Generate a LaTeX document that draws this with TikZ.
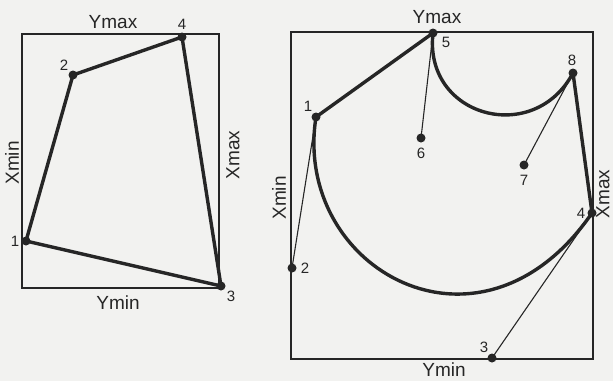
\documentclass[tikz,border=0pt]{standalone}
\usepackage{fontspec}
\setmainfont{Liberation Sans}
\usetikzlibrary{calc}
\definecolor{ink}{RGB}{38,38,38}
\definecolor{paper}{RGB}{242,242,240}
\begin{document}
\begin{tikzpicture}[x=1pt,y=-1pt,
  dot/.style={circle,fill=ink,draw=none,inner sep=0pt,minimum size=9pt},
  num/.style={inner sep=0pt,font=\fontsize{15}{15}\selectfont,text=ink},
  axis/.style={inner sep=0pt,font=\fontsize{19}{19}\selectfont,text=ink},
  frame/.style={draw=ink,line width=1.3pt},
  heavy/.style={draw=ink,line width=3.4pt,line cap=round,line join=round},
  light/.style={draw=ink,line width=1.1pt}]
\fill[paper] (0,0) rectangle (613,381);
\useasboundingbox (0,0) rectangle (613,381);
% ---------- left diagram ----------
\draw[frame] (22,34) rectangle (219,288);
\node[dot] (L1) at (26,241) {};
\node[dot] (L2) at (73,75) {};
\node[dot] (L3) at (221,286) {};
\node[dot] (L4) at (182,37) {};
\draw[heavy] (L1.center) -- (L2.center) -- (L4.center) -- (L3.center) -- cycle;
\node[num] (l1) at (15,241) {1};
\node[num] (l2) at (64,65) {2};
\node[num] (l3) at (231,296) {3};
\node[num] (l4) at (182,24) {4};
\node[axis] (lymax) at (113,22) {Ymax};
\node[axis] (lymin) at (118,303) {Ymin};
\node[axis,rotate=90] (lxmin) at (12,163) {Xmin};
\node[axis,rotate=90] (lxmax) at (233,155) {Xmax};
% ---------- right diagram ----------
\draw[frame] (291,32) rectangle (593,359);
\node[dot] (R1) at (316,117) {};
\node[dot] (R2) at (292,268) {};
\node[dot] (R3) at (492,358) {};
\node[dot] (R4) at (592,213) {};
\node[dot] (R5) at (433,33) {};
\node[dot] (R6) at (421,138) {};
\node[dot] (R7) at (524,165) {};
\node[dot] (R8) at (573,73) {};
\draw[light] (R1.center) -- (R2.center);
\draw[light] (R3.center) -- (R4.center);
\draw[light] (R5.center) -- (R6.center);
\draw[light] (R8.center) -- (R7.center);
\draw[heavy] (R1.center) -- (R5.center);
\draw[heavy] (R8.center) -- (R4.center);
\draw[heavy] (R1.center) .. controls (R2.center) and ($(R4.center)!1.12!(R3.center)$) .. (R4.center);
\draw[heavy] (R5.center) .. controls ($(R5.center)!0.8!(R6.center)$) and ($(R8.center)!0.8!(R7.center)$) .. (R8.center);
\node[num] (r1) at (308,106) {1};
\node[num] (r2) at (305,268) {2};
\node[num] (r3) at (484,347) {3};
\node[num] (r4) at (581,213) {4};
\node[num] (r5) at (446,42) {5};
\node[num] (r6) at (421,153) {6};
\node[num] (r7) at (524,180) {7};
\node[num] (r8) at (572,60) {8};
\node[axis] (rymax) at (437,17) {Ymax};
\node[axis] (rymin) at (444,370) {Ymin};
\node[axis,rotate=90] (rxmin) at (279,198) {Xmin};
\node[axis,rotate=90] (rxmax) at (603,194) {Xmax};
\end{tikzpicture}
\end{document}
